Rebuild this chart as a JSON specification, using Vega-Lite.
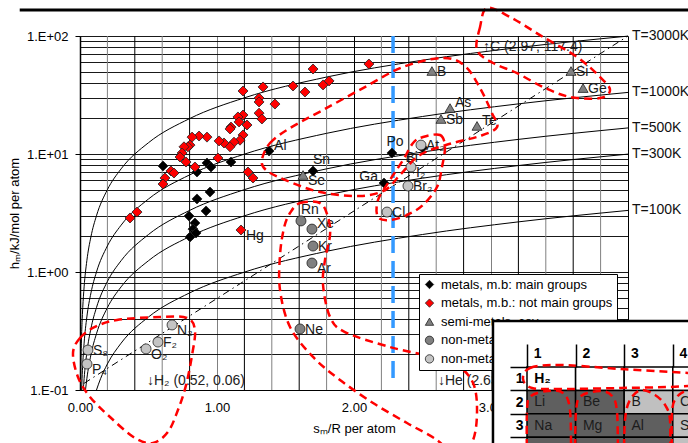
{
  "$schema": "https://vega.github.io/schema/vega-lite/v6.json",
  "autosize": {"type": "pad"},
  "padding": {"left": 8, "top": 2, "right": 0, "bottom": 0},
  "background": "white",
  "config": {
    "font": "Liberation Sans",
    "view": {"stroke": null},
    "axis": {"labelFont": "Liberation Sans", "titleFont": "Liberation Sans", "labelColor": "#000", "titleColor": "#000", "titleFontWeight": "normal"},
    "legend": {"labelFont": "Liberation Sans"},
    "text": {"font": "Liberation Sans"}
  },
  "bounds": "flush",
  "spacing": 0,
  "resolve": {"scale": {"color": "independent", "shape": "independent", "x": "independent", "y": "independent"}},
  "datasets": {
    "vg": [{"v": 0.2}, {"v": 0.4}, {"v": 0.6}, {"v": 0.8}, {"v": 1.2}, {"v": 1.4}, {"v": 1.6}, {"v": 1.8}, {"v": 2.2}, {"v": 2.4}, {"v": 2.6}, {"v": 2.8}, {"v": 3.2}, {"v": 3.4}, {"v": 3.6}, {"v": 3.8}],
    "tl": [
      {"T": 3000, "x": 0.00401, "h": 0.1}, {"T": 3000, "x": 0.006, "h": 0.1497}, {"T": 3000, "x": 0.01, "h": 0.2494}, {"T": 3000, "x": 0.015, "h": 0.3741}, {"T": 3000, "x": 0.02, "h": 0.4988}, {"T": 3000, "x": 0.03, "h": 0.7483}, {"T": 3000, "x": 0.05, "h": 1.247}, {"T": 3000, "x": 0.08, "h": 1.995}, {"T": 3000, "x": 0.12, "h": 2.993}, {"T": 3000, "x": 0.2, "h": 4.988}, {"T": 3000, "x": 0.3, "h": 7.483}, {"T": 3000, "x": 0.5, "h": 12.47}, {"T": 3000, "x": 0.8, "h": 19.95}, {"T": 3000, "x": 1.2, "h": 29.93}, {"T": 3000, "x": 1.8, "h": 44.9}, {"T": 3000, "x": 2.5, "h": 62.36}, {"T": 3000, "x": 3.2, "h": 79.81}, {"T": 3000, "x": 4.0, "h": 99.77},
      {"T": 1000, "x": 0.01203, "h": 0.1}, {"T": 1000, "x": 0.015, "h": 0.1247}, {"T": 1000, "x": 0.02, "h": 0.1663}, {"T": 1000, "x": 0.03, "h": 0.2494}, {"T": 1000, "x": 0.05, "h": 0.4157}, {"T": 1000, "x": 0.08, "h": 0.6651}, {"T": 1000, "x": 0.12, "h": 0.9977}, {"T": 1000, "x": 0.2, "h": 1.663}, {"T": 1000, "x": 0.3, "h": 2.494}, {"T": 1000, "x": 0.5, "h": 4.157}, {"T": 1000, "x": 0.8, "h": 6.651}, {"T": 1000, "x": 1.2, "h": 9.977}, {"T": 1000, "x": 1.8, "h": 14.97}, {"T": 1000, "x": 2.5, "h": 20.79}, {"T": 1000, "x": 3.2, "h": 26.6}, {"T": 1000, "x": 4.0, "h": 33.26},
      {"T": 500, "x": 0.02406, "h": 0.1}, {"T": 500, "x": 0.03, "h": 0.1247}, {"T": 500, "x": 0.05, "h": 0.2079}, {"T": 500, "x": 0.08, "h": 0.3326}, {"T": 500, "x": 0.12, "h": 0.4988}, {"T": 500, "x": 0.2, "h": 0.8314}, {"T": 500, "x": 0.3, "h": 1.247}, {"T": 500, "x": 0.5, "h": 2.079}, {"T": 500, "x": 0.8, "h": 3.326}, {"T": 500, "x": 1.2, "h": 4.988}, {"T": 500, "x": 1.8, "h": 7.483}, {"T": 500, "x": 2.5, "h": 10.39}, {"T": 500, "x": 3.2, "h": 13.3}, {"T": 500, "x": 4.0, "h": 16.63},
      {"T": 300, "x": 0.0401, "h": 0.1}, {"T": 300, "x": 0.05, "h": 0.1247}, {"T": 300, "x": 0.08, "h": 0.1995}, {"T": 300, "x": 0.12, "h": 0.2993}, {"T": 300, "x": 0.2, "h": 0.4988}, {"T": 300, "x": 0.3, "h": 0.7483}, {"T": 300, "x": 0.5, "h": 1.247}, {"T": 300, "x": 0.8, "h": 1.995}, {"T": 300, "x": 1.2, "h": 2.993}, {"T": 300, "x": 1.8, "h": 4.49}, {"T": 300, "x": 2.5, "h": 6.236}, {"T": 300, "x": 3.2, "h": 7.981}, {"T": 300, "x": 4.0, "h": 9.977},
      {"T": 100, "x": 0.1203, "h": 0.1}, {"T": 100, "x": 0.15, "h": 0.1247}, {"T": 100, "x": 0.2, "h": 0.1663}, {"T": 100, "x": 0.3, "h": 0.2494}, {"T": 100, "x": 0.5, "h": 0.4157}, {"T": 100, "x": 0.8, "h": 0.6651}, {"T": 100, "x": 1.2, "h": 0.9977}, {"T": 100, "x": 1.8, "h": 1.497}, {"T": 100, "x": 2.5, "h": 2.079}, {"T": 100, "x": 3.2, "h": 2.66}, {"T": 100, "x": 4.0, "h": 3.326}
    ],
    "tlab": [
      {"label": "T=3000K", "x": 4, "h": 99.77}, {"label": "T=1000K", "x": 4, "h": 33.26}, {"label": "T=500K", "x": 4, "h": 16.63}, {"label": "T=300K", "x": 4, "h": 9.977}, {"label": "T=100K", "x": 4, "h": 3.326}
    ],
    "dd": [{"x": 0.03, "h": 0.114}, {"x": 4.0, "h": 100}],
    "blue": [{"x": 2.285, "h": 100, "h2": 0.1216}],
    "topline": [{"x": -0.44, "x2": 4.62, "h": 166.1}],
    "notes": [
      {"label": "↑C (2.97, 117.4)", "x": 2.942, "h": 80.7},
      {"label": "↓H₂ (0.52, 0.06)", "x": 0.489, "h": 0.119},
      {"label": "↓He (2.63, 0.08)", "x": 2.613, "h": 0.119}
    ],
    "pts": [
      {"name": "Al", "cat": "metals, m.b: main groups", "x": 1.38, "h": 10.6},
      {"name": "", "cat": "metals, m.b: main groups", "x": 0.606, "h": 7.91},
      {"name": "", "cat": "metals, m.b: main groups", "x": 0.927, "h": 8.39},
      {"name": "", "cat": "metals, m.b: main groups", "x": 0.956, "h": 7.76},
      {"name": "", "cat": "metals, m.b: main groups", "x": 0.854, "h": 7.04},
      {"name": "", "cat": "metals, m.b: main groups", "x": 1.102, "h": 8.55},
      {"name": "", "cat": "metals, m.b: main groups", "x": 0.949, "h": 4.76},
      {"name": "", "cat": "metals, m.b: main groups", "x": 0.854, "h": 4.16},
      {"name": "", "cat": "metals, m.b: main groups", "x": 0.92, "h": 3.29},
      {"name": "", "cat": "metals, m.b: main groups", "x": 0.796, "h": 2.98},
      {"name": "", "cat": "metals, m.b: main groups", "x": 0.839, "h": 2.6},
      {"name": "", "cat": "metals, m.b: main groups", "x": 0.825, "h": 2.31},
      {"name": "", "cat": "metals, m.b: main groups", "x": 0.818, "h": 2.06},
      {"name": "", "cat": "metals, m.b: main groups", "x": 0.803, "h": 1.98},
      {"name": "", "cat": "metals, m.b: main groups", "x": 0.847, "h": 2.14},
      {"name": "Sn", "cat": "metals, m.b: main groups", "x": 1.701, "h": 7.18},
      {"name": "Po", "cat": "metals, m.b: main groups", "x": 2.277, "h": 10.2},
      {"name": "Ga", "cat": "metals, m.b: main groups", "x": 2.219, "h": 5.68},
      {"name": "Bi", "cat": "metals, m.b: main groups", "x": 2.5, "h": 11.3},
      {"name": "", "cat": "metals, m.b.: not main groups", "x": 1.701, "h": 52.5},
      {"name": "", "cat": "metals, m.b.: not main groups", "x": 1.818, "h": 41.6},
      {"name": "", "cat": "metals, m.b.: not main groups", "x": 1.774, "h": 38.5},
      {"name": "", "cat": "metals, m.b.: not main groups", "x": 1.555, "h": 37.7},
      {"name": "", "cat": "metals, m.b.: not main groups", "x": 1.642, "h": 33.5},
      {"name": "", "cat": "metals, m.b.: not main groups", "x": 1.336, "h": 37.0},
      {"name": "", "cat": "metals, m.b.: not main groups", "x": 1.19, "h": 34.2},
      {"name": "", "cat": "metals, m.b.: not main groups", "x": 1.307, "h": 29.8},
      {"name": "", "cat": "metals, m.b.: not main groups", "x": 1.307, "h": 27.6},
      {"name": "", "cat": "metals, m.b.: not main groups", "x": 1.423, "h": 26.5},
      {"name": "", "cat": "metals, m.b.: not main groups", "x": 1.307, "h": 22.2},
      {"name": "", "cat": "metals, m.b.: not main groups", "x": 1.328, "h": 19.8},
      {"name": "", "cat": "metals, m.b.: not main groups", "x": 1.19, "h": 21.4},
      {"name": "", "cat": "metals, m.b.: not main groups", "x": 1.153, "h": 20.6},
      {"name": "", "cat": "metals, m.b.: not main groups", "x": 1.161, "h": 18.7},
      {"name": "", "cat": "metals, m.b.: not main groups", "x": 1.219, "h": 17.6},
      {"name": "", "cat": "metals, m.b.: not main groups", "x": 1.102, "h": 16.9},
      {"name": "", "cat": "metals, m.b.: not main groups", "x": 1.095, "h": 16.3},
      {"name": "", "cat": "metals, m.b.: not main groups", "x": 1.19, "h": 14.5},
      {"name": "", "cat": "metals, m.b.: not main groups", "x": 1.168, "h": 13.1},
      {"name": "", "cat": "metals, m.b.: not main groups", "x": 1.124, "h": 12.6},
      {"name": "", "cat": "metals, m.b.: not main groups", "x": 1.095, "h": 11.5},
      {"name": "", "cat": "metals, m.b.: not main groups", "x": 1.051, "h": 12.4},
      {"name": "", "cat": "metals, m.b.: not main groups", "x": 1.015, "h": 12.9},
      {"name": "", "cat": "metals, m.b.: not main groups", "x": 0.927, "h": 13.9},
      {"name": "", "cat": "metals, m.b.: not main groups", "x": 0.869, "h": 14.2},
      {"name": "", "cat": "metals, m.b.: not main groups", "x": 0.818, "h": 13.9},
      {"name": "", "cat": "metals, m.b.: not main groups", "x": 0.803, "h": 11.9},
      {"name": "", "cat": "metals, m.b.: not main groups", "x": 0.788, "h": 11.5},
      {"name": "", "cat": "metals, m.b.: not main groups", "x": 0.759, "h": 11.5},
      {"name": "", "cat": "metals, m.b.: not main groups", "x": 0.745, "h": 10.2},
      {"name": "", "cat": "metals, m.b.: not main groups", "x": 0.73, "h": 9.43},
      {"name": "", "cat": "metals, m.b.: not main groups", "x": 0.774, "h": 8.55},
      {"name": "", "cat": "metals, m.b.: not main groups", "x": 0.839, "h": 7.76},
      {"name": "", "cat": "metals, m.b.: not main groups", "x": 1.007, "h": 9.25},
      {"name": "", "cat": "metals, m.b.: not main groups", "x": 1.226, "h": 7.04},
      {"name": "", "cat": "metals, m.b.: not main groups", "x": 1.263, "h": 6.26},
      {"name": "", "cat": "metals, m.b.: not main groups", "x": 0.664, "h": 7.18},
      {"name": "", "cat": "metals, m.b.: not main groups", "x": 0.686, "h": 6.9},
      {"name": "", "cat": "metals, m.b.: not main groups", "x": 0.62, "h": 6.26},
      {"name": "", "cat": "metals, m.b.: not main groups", "x": 0.606, "h": 5.57},
      {"name": "", "cat": "metals, m.b.: not main groups", "x": 0.416, "h": 3.22},
      {"name": "", "cat": "metals, m.b.: not main groups", "x": 0.365, "h": 2.87},
      {"name": "", "cat": "metals, m.b.: not main groups", "x": 2.109, "h": 57.9},
      {"name": "Hg", "cat": "metals, m.b.: not main groups", "x": 1.175, "h": 2.27},
      {"name": "B", "cat": "semi-metals, cov.", "x": 2.569, "h": 50.5},
      {"name": "Si", "cat": "semi-metals, cov.", "x": 3.584, "h": 50.5},
      {"name": "Ge", "cat": "semi-metals, cov.", "x": 3.672, "h": 36.2},
      {"name": "As", "cat": "semi-metals, cov.", "x": 2.701, "h": 24.5},
      {"name": "Sb", "cat": "semi-metals, cov.", "x": 2.635, "h": 19.8},
      {"name": "Te", "cat": "semi-metals, cov.", "x": 2.898, "h": 17.3},
      {"name": "Se", "cat": "semi-metals, cov.", "x": 1.628, "h": 6.64},
      {"name": "Rn", "cat": "non-metals, atoms", "x": 1.613, "h": 2.71},
      {"name": "Xe", "cat": "non-metals, atoms", "x": 1.693, "h": 2.31},
      {"name": "Kr", "cat": "non-metals, atoms", "x": 1.701, "h": 1.66},
      {"name": "Ar", "cat": "non-metals, atoms", "x": 1.693, "h": 1.19},
      {"name": "Ne", "cat": "non-metals, atoms", "x": 1.606, "h": 0.329},
      {"name": "N₂", "cat": "non-metals, molecules", "x": 0.672, "h": 0.356},
      {"name": "F₂", "cat": "non-metals, molecules", "x": 0.569, "h": 0.255},
      {"name": "O₂", "cat": "non-metals, molecules", "x": 0.482, "h": 0.223},
      {"name": "S₈", "cat": "non-metals, molecules", "x": 0.058, "h": 0.218},
      {"name": "P₄", "cat": "non-metals, molecules", "x": 0.051, "h": 0.166},
      {"name": "Cl₂", "cat": "non-metals, molecules", "x": 2.241, "h": 3.22},
      {"name": "Br₂", "cat": "non-metals, molecules", "x": 2.394, "h": 5.36},
      {"name": "I₂", "cat": "non-metals, molecules", "x": 2.416, "h": 7.76},
      {"name": "At₂", "cat": "non-metals, molecules", "x": 2.489, "h": 11.9}
    ],
    "ell": [
      {"e": "A", "i": 0, "x": 2.971, "h": 172.7}, {"e": "A", "i": 1, "x": 2.92, "h": 119.2}, {"e": "A", "i": 2, "x": 2.898, "h": 76.1}, {"e": "A", "i": 3, "x": 3.015, "h": 59.0}, {"e": "A", "i": 4, "x": 3.19, "h": 48.5}, {"e": "A", "i": 5, "x": 3.38, "h": 36.9}, {"e": "A", "i": 6, "x": 3.577, "h": 30.4}, {"e": "A", "i": 7, "x": 3.796, "h": 29.8}, {"e": "A", "i": 8, "x": 3.869, "h": 34.9}, {"e": "A", "i": 9, "x": 3.796, "h": 44.9}, {"e": "A", "i": 10, "x": 3.628, "h": 66.4}, {"e": "A", "i": 11, "x": 3.38, "h": 98.1}, {"e": "A", "i": 12, "x": 3.139, "h": 144.9},
      {"e": "B", "i": 0, "x": 1.328, "h": 8.9}, {"e": "B", "i": 1, "x": 1.387, "h": 12.39}, {"e": "B", "i": 2, "x": 1.533, "h": 16.6}, {"e": "B", "i": 3, "x": 1.774, "h": 23.6}, {"e": "B", "i": 4, "x": 2.066, "h": 36.2}, {"e": "B", "i": 5, "x": 2.358, "h": 54.6}, {"e": "B", "i": 6, "x": 2.65, "h": 65.2}, {"e": "B", "i": 7, "x": 2.81, "h": 55.7}, {"e": "B", "i": 8, "x": 2.92, "h": 36.2}, {"e": "B", "i": 9, "x": 3.007, "h": 22.2}, {"e": "B", "i": 10, "x": 3.044, "h": 16.9}, {"e": "B", "i": 11, "x": 2.92, "h": 14.2}, {"e": "B", "i": 12, "x": 2.701, "h": 12.2}, {"e": "B", "i": 13, "x": 2.482, "h": 9.82}, {"e": "B", "i": 14, "x": 2.336, "h": 6.64}, {"e": "B", "i": 15, "x": 2.226, "h": 4.95}, {"e": "B", "i": 16, "x": 2.044, "h": 4.41}, {"e": "B", "i": 17, "x": 1.752, "h": 4.76}, {"e": "B", "i": 18, "x": 1.496, "h": 6.03}, {"e": "B", "i": 19, "x": 1.358, "h": 7.31},
      {"e": "C", "i": 0, "x": 2.504, "h": 13.93}, {"e": "C", "i": 1, "x": 2.628, "h": 14.49}, {"e": "C", "i": 2, "x": 2.664, "h": 11.46}, {"e": "C", "i": 3, "x": 2.642, "h": 7.76}, {"e": "C", "i": 4, "x": 2.606, "h": 5.25}, {"e": "C", "i": 5, "x": 2.504, "h": 3.7}, {"e": "C", "i": 6, "x": 2.387, "h": 3.04}, {"e": "C", "i": 7, "x": 2.263, "h": 2.76}, {"e": "C", "i": 8, "x": 2.175, "h": 2.92}, {"e": "C", "i": 9, "x": 2.175, "h": 4.07}, {"e": "C", "i": 10, "x": 2.263, "h": 6.03}, {"e": "C", "i": 11, "x": 2.358, "h": 8.89}, {"e": "C", "i": 12, "x": 2.431, "h": 12.39},
      {"e": "D", "i": 0, "x": 1.533, "h": 3.16}, {"e": "D", "i": 1, "x": 1.606, "h": 3.84}, {"e": "D", "i": 2, "x": 1.752, "h": 3.84}, {"e": "D", "i": 3, "x": 1.81, "h": 2.92}, {"e": "D", "i": 4, "x": 1.825, "h": 2.06}, {"e": "D", "i": 5, "x": 1.788, "h": 1.26}, {"e": "D", "i": 6, "x": 1.774, "h": 0.776}, {"e": "D", "i": 7, "x": 1.825, "h": 0.416}, {"e": "D", "i": 8, "x": 1.934, "h": 0.31}, {"e": "D", "i": 9, "x": 2.263, "h": 0.231}, {"e": "D", "i": 10, "x": 2.577, "h": 0.1905}, {"e": "D", "i": 11, "x": 2.752, "h": 0.163}, {"e": "D", "i": 12, "x": 2.869, "h": 0.1146}, {"e": "D", "i": 13, "x": 2.898, "h": 0.0677}, {"e": "D", "i": 14, "x": 2.869, "h": 0.0377}, {"e": "D", "i": 15, "x": 2.759, "h": 0.0265}, {"e": "D", "i": 16, "x": 2.606, "h": 0.0377}, {"e": "D", "i": 17, "x": 2.387, "h": 0.0525}, {"e": "D", "i": 18, "x": 2.139, "h": 0.0776}, {"e": "D", "i": 19, "x": 1.898, "h": 0.1216}, {"e": "D", "i": 20, "x": 1.701, "h": 0.1905}, {"e": "D", "i": 21, "x": 1.533, "h": 0.342}, {"e": "D", "i": 22, "x": 1.46, "h": 0.704}, {"e": "D", "i": 23, "x": 1.46, "h": 1.39}, {"e": "D", "i": 24, "x": 1.489, "h": 2.36},
      {"e": "E", "i": 0, "x": -0.051, "h": 0.206}, {"e": "E", "i": 1, "x": 0.0, "h": 0.276}, {"e": "E", "i": 2, "x": 0.109, "h": 0.342}, {"e": "E", "i": 3, "x": 0.27, "h": 0.392}, {"e": "E", "i": 4, "x": 0.584, "h": 0.416}, {"e": "E", "i": 5, "x": 0.781, "h": 0.408}, {"e": "E", "i": 6, "x": 0.839, "h": 0.322}, {"e": "E", "i": 7, "x": 0.818, "h": 0.198}, {"e": "E", "i": 8, "x": 0.774, "h": 0.11}, {"e": "E", "i": 9, "x": 0.715, "h": 0.0677}, {"e": "E", "i": 10, "x": 0.642, "h": 0.0441}, {"e": "E", "i": 11, "x": 0.533, "h": 0.0356}, {"e": "E", "i": 12, "x": 0.401, "h": 0.0392}, {"e": "E", "i": 13, "x": 0.219, "h": 0.059}, {"e": "E", "i": 14, "x": 0.073, "h": 0.0873}, {"e": "E", "i": 15, "x": -0.015, "h": 0.129}
    ],
    "ptab": [
      {"group": "1", "period": "1", "sym": "H₂", "kind": "nonmetal"},
      {"group": "2", "period": "1", "sym": "", "kind": "nonmetal"},
      {"group": "3", "period": "1", "sym": "", "kind": "nonmetal"},
      {"group": "4", "period": "1", "sym": "", "kind": "nonmetal"},
      {"group": "1", "period": "2", "sym": "Li", "kind": "metal"},
      {"group": "2", "period": "2", "sym": "Be", "kind": "metal"},
      {"group": "3", "period": "2", "sym": "B", "kind": "semimetal"},
      {"group": "4", "period": "2", "sym": "C", "kind": "semimetal"},
      {"group": "1", "period": "3", "sym": "Na", "kind": "metal"},
      {"group": "2", "period": "3", "sym": "Mg", "kind": "metal"},
      {"group": "3", "period": "3", "sym": "Al", "kind": "metal"},
      {"group": "4", "period": "3", "sym": "Si", "kind": "semimetal"},
      {"group": "1", "period": "4", "sym": "K", "kind": "metal"},
      {"group": "2", "period": "4", "sym": "Ca", "kind": "metal"},
      {"group": "3", "period": "4", "sym": "Ga", "kind": "metal"},
      {"group": "4", "period": "4", "sym": "Ge", "kind": "semimetal"}
    ],
    "pframe": [{"gx": -0.7, "gx2": 9, "gp": -1.963, "gp2": 8}],
    "pellc": [
      {"e": "r1", "i": 0, "gx": -0.082, "gp": 0.512}, {"e": "r1", "i": 1, "gx": 0.062, "gp": 0.043}, {"e": "r1", "i": 2, "gx": 0.679, "gp": -0.085}, {"e": "r1", "i": 3, "gx": 1.934, "gp": 0.085}, {"e": "r1", "i": 4, "gx": 3.313, "gp": 0.256}, {"e": "r1", "i": 5, "gx": 4.79, "gp": 0.47}, {"e": "r1", "i": 6, "gx": 3.313, "gp": 0.811}, {"e": "r1", "i": 7, "gx": 1.934, "gp": 0.896}, {"e": "r1", "i": 8, "gx": 0.679, "gp": 0.939}, {"e": "r1", "i": 9, "gx": 0.103, "gp": 0.896}
    ],
    "pello": [
      {"e": "c1", "i": 0, "gx": 0.0, "gp": 3.97}, {"e": "c1", "i": 1, "gx": 0.0, "gp": 1.835}, {"e": "c1", "i": 2, "gx": 0.082, "gp": 1.238}, {"e": "c1", "i": 3, "gx": 0.432, "gp": 1.024}, {"e": "c1", "i": 4, "gx": 0.741, "gp": 1.11}, {"e": "c1", "i": 5, "gx": 0.885, "gp": 1.835}, {"e": "c1", "i": 6, "gx": 0.905, "gp": 3.97},
      {"e": "c2", "i": 0, "gx": 0.988, "gp": 3.97}, {"e": "c2", "i": 1, "gx": 1.008, "gp": 1.92}, {"e": "c2", "i": 2, "gx": 1.111, "gp": 1.238}, {"e": "c2", "i": 3, "gx": 1.502, "gp": 1.024}, {"e": "c2", "i": 4, "gx": 1.749, "gp": 1.238}, {"e": "c2", "i": 5, "gx": 1.852, "gp": 1.92}, {"e": "c2", "i": 6, "gx": 1.872, "gp": 3.97},
      {"e": "c3", "i": 0, "gx": 1.996, "gp": 3.97}, {"e": "c3", "i": 1, "gx": 2.016, "gp": 2.26}, {"e": "c3", "i": 2, "gx": 2.119, "gp": 1.408}, {"e": "c3", "i": 3, "gx": 2.346, "gp": 0.982}, {"e": "c3", "i": 4, "gx": 2.634, "gp": 1.195}, {"e": "c3", "i": 5, "gx": 2.84, "gp": 1.62}, {"e": "c3", "i": 6, "gx": 2.942, "gp": 2.26}, {"e": "c3", "i": 7, "gx": 2.942, "gp": 3.97},
      {"e": "c4", "i": 0, "gx": 2.984, "gp": 3.97}, {"e": "c4", "i": 1, "gx": 2.984, "gp": 1.92}, {"e": "c4", "i": 2, "gx": 3.086, "gp": 1.28}, {"e": "c4", "i": 3, "gx": 3.313, "gp": 0.982}, {"e": "c4", "i": 4, "gx": 3.6, "gp": 0.95}
    ]
  },
  "vconcat": [
    {
      "width": 548,
      "height": 354,
      "layer": [
        {
          "data": {"name": "vg"},
          "mark": {"type": "rule", "strokeWidth": 1},
          "encoding": {
            "x": {"field": "v", "type": "quantitative", "scale": {"type": "linear", "domain": [0, 4], "nice": false, "zero": false}},
            "color": {"condition": {"test": "round(datum.v * 10) % 4 == 0", "value": "#000000"}, "value": "#808080"}
          }
        },
        {
          "data": {"name": "tl"},
          "mark": {"type": "line", "color": "black", "strokeWidth": 1, "interpolate": "monotone"},
          "encoding": {
            "x": {"field": "x", "type": "quantitative", "scale": {"type": "linear", "domain": [0, 4], "nice": false, "zero": false},
              "axis": {"title": "sₘ/R per atom", "values": [0, 1, 2, 3, 4], "format": ".2f", "labelFlush": false,
                "grid": true, "gridColor": {"condition": {"test": "round(datum.value * 10) % 4 == 0", "value": "#000000"}, "value": "#808080"}, "gridWidth": 1, "gridOpacity": 1,
                "ticks": false, "labelPadding": 11, "labelFontSize": 13, "titleFontSize": 13, "titlePadding": 8, "domainColor": "#000", "domainWidth": 1.2}},
            "y": {"field": "h", "type": "quantitative", "scale": {"type": "log", "domain": [0.1, 100], "nice": false},
              "axis": {"title": "hₘ/kJ/mol per atom", "values": [0.1, 0.2, 0.3, 0.4, 0.5, 0.6, 0.7, 0.8, 0.9, 1, 2, 3, 4, 5, 6, 7, 8, 9, 10, 20, 30, 40, 50, 60, 70, 80, 90, 100],
                "labelExpr": "datum.value == 100 ? '1.E+02' : datum.value == 10 ? '1.E+01' : datum.value == 1 ? '1.E+00' : datum.value == 0.1 ? '1.E-01' : ''", "labelFlush": false,
                "grid": true, "gridColor": "#000000", "gridWidth": 1, "gridOpacity": 0.9,
                "tickColor": {"condition": {"test": "indexof([0.1, 1, 10, 100], datum.value) >= 0", "value": "#000000"}, "value": "transparent"},
                "tickSize": 5, "labelPadding": 7, "labelFontSize": 13, "titleFontSize": 13, "titlePadding": 5, "domainColor": "#000", "domainWidth": 1.5}},
            "detail": {"field": "T", "type": "nominal"}
          }
        },
        {
          "data": {"name": "tlab"},
          "mark": {"type": "text", "align": "left", "baseline": "middle", "dx": 4, "fontSize": 14, "color": "#111"},
          "encoding": {
            "x": {"field": "x", "type": "quantitative", "scale": {"type": "linear", "domain": [0, 4], "nice": false, "zero": false}},
            "y": {"field": "h", "type": "quantitative", "scale": {"type": "log", "domain": [0.1, 100], "nice": false}},
            "text": {"field": "label"}
          }
        },
        {
          "data": {"name": "dd"},
          "mark": {"type": "line", "color": "black", "strokeWidth": 1, "strokeDash": [7, 4, 1.5, 4]},
          "encoding": {
            "x": {"field": "x", "type": "quantitative", "scale": {"type": "linear", "domain": [0, 4], "nice": false, "zero": false}},
            "y": {"field": "h", "type": "quantitative", "scale": {"type": "log", "domain": [0.1, 100], "nice": false}}
          }
        },
        {
          "data": {"name": "blue"},
          "mark": {"type": "rule", "color": "#3399ff", "strokeWidth": 3.5, "strokeDash": [17, 8]},
          "encoding": {
            "x": {"field": "x", "type": "quantitative", "scale": {"type": "linear", "domain": [0, 4], "nice": false, "zero": false}},
            "y": {"field": "h", "type": "quantitative", "scale": {"type": "log", "domain": [0.1, 100], "nice": false}},
            "y2": {"field": "h2"}
          }
        },
        {
          "data": {"name": "pts"},
          "mark": {"type": "point", "filled": true, "size": 100, "stroke": "#222", "strokeWidth": 0.8, "opacity": 1},
          "encoding": {
            "x": {"field": "x", "type": "quantitative", "scale": {"type": "linear", "domain": [0, 4], "nice": false, "zero": false}},
            "y": {"field": "h", "type": "quantitative", "scale": {"type": "log", "domain": [0.1, 100], "nice": false}},
            "color": {"field": "cat", "type": "nominal",
              "scale": {"domain": ["metals, m.b: main groups", "metals, m.b.: not main groups", "semi-metals, cov.", "non-metals, atoms", "non-metals, molecules"], "range": ["#000000", "#ff0000", "#808080", "#808080", "#c4c4c4"]},
              "legend": {"title": null, "orient": "none", "legendX": 339, "legendY": 238, "fillColor": "white", "strokeColor": "#000", "padding": 4, "labelFontSize": 13, "labelColor": "#000", "symbolSize": 70, "rowPadding": 4.6, "labelOffset": 5, "labelLimit": 400, "symbolStrokeColor": "#222", "symbolStrokeWidth": 0.8}},
            "shape": {"field": "cat", "type": "nominal",
              "scale": {"domain": ["metals, m.b: main groups", "metals, m.b.: not main groups", "semi-metals, cov.", "non-metals, atoms", "non-metals, molecules"], "range": ["diamond", "diamond", "triangle-up", "circle", "circle"]},
              "legend": {"title": null, "orient": "none", "legendX": 339, "legendY": 238, "fillColor": "white", "strokeColor": "#000", "padding": 4, "labelFontSize": 13, "labelColor": "#000", "symbolSize": 70, "rowPadding": 4.6, "labelOffset": 5, "labelLimit": 400, "symbolStrokeColor": "#222", "symbolStrokeWidth": 0.8}}
          }
        },
        {
          "data": {"name": "pts"},
          "transform": [{"filter": "indexof(['B','Si','Ge','F₂','S₈','Ne','Cl₂','At₂','Kr','Br₂','Sb'], datum.name) >= 0"}],
          "mark": {"type": "text", "align": "left", "baseline": "middle", "dx": 5, "dy": 1, "fontSize": 14, "color": "#1a1a1a"},
          "encoding": {
            "x": {"field": "x", "type": "quantitative", "scale": {"type": "linear", "domain": [0, 4], "nice": false, "zero": false}},
            "y": {"field": "h", "type": "quantitative", "scale": {"type": "log", "domain": [0.1, 100], "nice": false}},
            "text": {"field": "name"}
          }
        },
        {
          "data": {"name": "pts"},
          "transform": [{"filter": "indexof(['Al','As','Xe','Te'], datum.name) >= 0"}],
          "mark": {"type": "text", "align": "left", "baseline": "middle", "dx": 5, "dy": -5, "fontSize": 14, "color": "#1a1a1a"},
          "encoding": {
            "x": {"field": "x", "type": "quantitative", "scale": {"type": "linear", "domain": [0, 4], "nice": false, "zero": false}},
            "y": {"field": "h", "type": "quantitative", "scale": {"type": "log", "domain": [0.1, 100], "nice": false}},
            "text": {"field": "name"}
          }
        },
        {
          "data": {"name": "pts"},
          "transform": [{"filter": "indexof(['Se','I₂','N₂','O₂','P₄','Hg','Ar'], datum.name) >= 0"}],
          "mark": {"type": "text", "align": "left", "baseline": "middle", "dx": 5, "dy": 6, "fontSize": 14, "color": "#1a1a1a"},
          "encoding": {
            "x": {"field": "x", "type": "quantitative", "scale": {"type": "linear", "domain": [0, 4], "nice": false, "zero": false}},
            "y": {"field": "h", "type": "quantitative", "scale": {"type": "log", "domain": [0.1, 100], "nice": false}},
            "text": {"field": "name"}
          }
        },
        {
          "data": {"name": "pts"},
          "transform": [{"filter": "indexof(['Sn','Rn'], datum.name) >= 0"}],
          "mark": {"type": "text", "align": "left", "baseline": "middle", "dx": 0, "dy": -11, "fontSize": 14, "color": "#1a1a1a"},
          "encoding": {
            "x": {"field": "x", "type": "quantitative", "scale": {"type": "linear", "domain": [0, 4], "nice": false, "zero": false}},
            "y": {"field": "h", "type": "quantitative", "scale": {"type": "log", "domain": [0.1, 100], "nice": false}},
            "text": {"field": "name"}
          }
        },
        {
          "data": {"name": "pts"},
          "transform": [{"filter": "datum.name == 'Po'"}],
          "mark": {"type": "text", "align": "center", "baseline": "middle", "dx": 3, "dy": -11, "fontSize": 14, "color": "#1a1a1a"},
          "encoding": {
            "x": {"field": "x", "type": "quantitative", "scale": {"type": "linear", "domain": [0, 4], "nice": false, "zero": false}},
            "y": {"field": "h", "type": "quantitative", "scale": {"type": "log", "domain": [0.1, 100], "nice": false}},
            "text": {"field": "name"}
          }
        },
        {
          "data": {"name": "pts"},
          "transform": [{"filter": "datum.name == 'Ga'"}],
          "mark": {"type": "text", "align": "right", "baseline": "middle", "dx": -6, "dy": -6, "fontSize": 14, "color": "#1a1a1a"},
          "encoding": {
            "x": {"field": "x", "type": "quantitative", "scale": {"type": "linear", "domain": [0, 4], "nice": false, "zero": false}},
            "y": {"field": "h", "type": "quantitative", "scale": {"type": "log", "domain": [0.1, 100], "nice": false}},
            "text": {"field": "name"}
          }
        },
        {
          "data": {"name": "pts"},
          "transform": [{"filter": "datum.name == 'Bi'"}],
          "mark": {"type": "text", "align": "left", "baseline": "middle", "dx": -17, "dy": 10, "fontSize": 14, "color": "#1a1a1a"},
          "encoding": {
            "x": {"field": "x", "type": "quantitative", "scale": {"type": "linear", "domain": [0, 4], "nice": false, "zero": false}},
            "y": {"field": "h", "type": "quantitative", "scale": {"type": "log", "domain": [0.1, 100], "nice": false}},
            "text": {"field": "name"}
          }
        },
        {
          "data": {"name": "notes"},
          "mark": {"type": "text", "align": "left", "baseline": "middle", "fontSize": 14, "color": "#222"},
          "encoding": {
            "x": {"field": "x", "type": "quantitative", "scale": {"type": "linear", "domain": [0, 4], "nice": false, "zero": false}},
            "y": {"field": "h", "type": "quantitative", "scale": {"type": "log", "domain": [0.1, 100], "nice": false}},
            "text": {"field": "label"}
          }
        },
        {
          "data": {"name": "ell"},
          "mark": {"type": "line", "color": "#ff0000", "strokeWidth": 2.5, "strokeDash": [8, 5], "interpolate": "cardinal-closed", "clip": false},
          "encoding": {
            "x": {"field": "x", "type": "quantitative", "scale": {"type": "linear", "domain": [0, 4], "nice": false, "zero": false}},
            "y": {"field": "h", "type": "quantitative", "scale": {"type": "log", "domain": [0.1, 100], "nice": false}},
            "detail": {"field": "e", "type": "nominal"},
            "order": {"field": "i", "type": "quantitative"}
          }
        },
        {
          "data": {"name": "topline"},
          "mark": {"type": "rule", "color": "#000", "strokeWidth": 3},
          "encoding": {
            "x": {"field": "x", "type": "quantitative", "scale": {"type": "linear", "domain": [0, 4], "nice": false, "zero": false}},
            "x2": {"field": "x2"},
            "y": {"field": "h", "type": "quantitative", "scale": {"type": "log", "domain": [0.1, 100], "nice": false}}
          }
        }
      ]
    },
    {
      "width": 608,
      "height": 53,
      "resolve": {"scale": {"x": "independent", "y": "independent"}},
      "layer": [
        {
          "data": {"name": "pframe"},
          "mark": {"type": "rect", "fill": "white", "stroke": "black", "strokeWidth": 2.5},
          "encoding": {
            "x": {"field": "gx", "type": "quantitative", "scale": {"domain": [0, 8], "range": [447, 835.8], "nice": false, "zero": false}, "axis": null},
            "x2": {"field": "gx2"},
            "y": {"field": "gp", "type": "quantitative", "scale": {"domain": [0, 7], "range": [-23, 141], "nice": false, "zero": false}, "axis": null},
            "y2": {"field": "gp2"}
          }
        },
        {
          "data": {"name": "ptab"},
          "layer": [
            {
              "mark": {"type": "rect", "stroke": "black", "strokeWidth": 1.5},
              "encoding": {
                "x": {"field": "group", "type": "ordinal", "scale": {"domain": ["1", "2", "3", "4", "5", "6", "7", "8"], "range": [447, 835.8], "paddingInner": 0, "paddingOuter": 0},
                  "axis": {"orient": "top", "offset": 23, "domain": false, "grid": false, "tickBand": "extent", "tickSize": 23, "tickColor": "black", "tickWidth": 1.5, "labelAlign": "left", "labelOffset": -18, "labelPadding": -16, "labelFontSize": 14, "labelFontWeight": "bold", "labelAngle": 0, "title": null}},
                "y": {"field": "period", "type": "ordinal", "scale": {"domain": ["1", "2", "3", "4", "5", "6", "7"], "range": [-23, 141], "paddingInner": 0, "paddingOuter": 0},
                  "axis": {"orient": "left", "offset": -447, "domain": false, "grid": false, "tickBand": "extent", "tickSize": 17, "tickColor": "black", "tickWidth": 1.5, "labelPadding": -13, "labelFontSize": 14, "labelFontWeight": "bold", "title": null}},
                "color": {"field": "kind", "type": "nominal", "scale": {"domain": ["metal", "semimetal", "nonmetal"], "range": ["#5f5f5f", "#c0c0c0", "#ffffff"]}, "legend": null}
              }
            },
            {
              "transform": [{"filter": "datum.sym != 'H₂'"}],
              "mark": {"type": "text", "align": "left", "baseline": "middle", "dx": -17, "fontSize": 14, "color": "#1c1c1c"},
              "encoding": {
                "x": {"field": "group", "type": "ordinal"},
                "y": {"field": "period", "type": "ordinal"},
                "text": {"field": "sym"}
              }
            },
            {
              "transform": [{"filter": "datum.sym == 'H₂'"}],
              "mark": {"type": "text", "align": "left", "baseline": "middle", "dx": -17, "fontSize": 14, "fontWeight": "bold", "color": "#000"},
              "encoding": {
                "x": {"field": "group", "type": "ordinal"},
                "y": {"field": "period", "type": "ordinal"},
                "text": {"field": "sym"}
              }
            }
          ]
        },
        {
          "data": {"name": "pellc"},
          "mark": {"type": "line", "color": "#ff0000", "strokeWidth": 2.5, "strokeDash": [8, 5], "interpolate": "cardinal-closed"},
          "encoding": {
            "x": {"field": "gx", "type": "quantitative", "scale": {"domain": [0, 8], "range": [447, 835.8], "nice": false, "zero": false}, "axis": null},
            "y": {"field": "gp", "type": "quantitative", "scale": {"domain": [0, 7], "range": [-23, 141], "nice": false, "zero": false}, "axis": null},
            "detail": {"field": "e", "type": "nominal"},
            "order": {"field": "i", "type": "quantitative"}
          }
        },
        {
          "data": {"name": "pello"},
          "mark": {"type": "line", "color": "#ff0000", "strokeWidth": 2.5, "strokeDash": [8, 5], "interpolate": "cardinal"},
          "encoding": {
            "x": {"field": "gx", "type": "quantitative", "scale": {"domain": [0, 8], "range": [447, 835.8], "nice": false, "zero": false}, "axis": null},
            "y": {"field": "gp", "type": "quantitative", "scale": {"domain": [0, 7], "range": [-23, 141], "nice": false, "zero": false}, "axis": null},
            "detail": {"field": "e", "type": "nominal"},
            "order": {"field": "i", "type": "quantitative"}
          }
        }
      ]
    }
  ]
}
